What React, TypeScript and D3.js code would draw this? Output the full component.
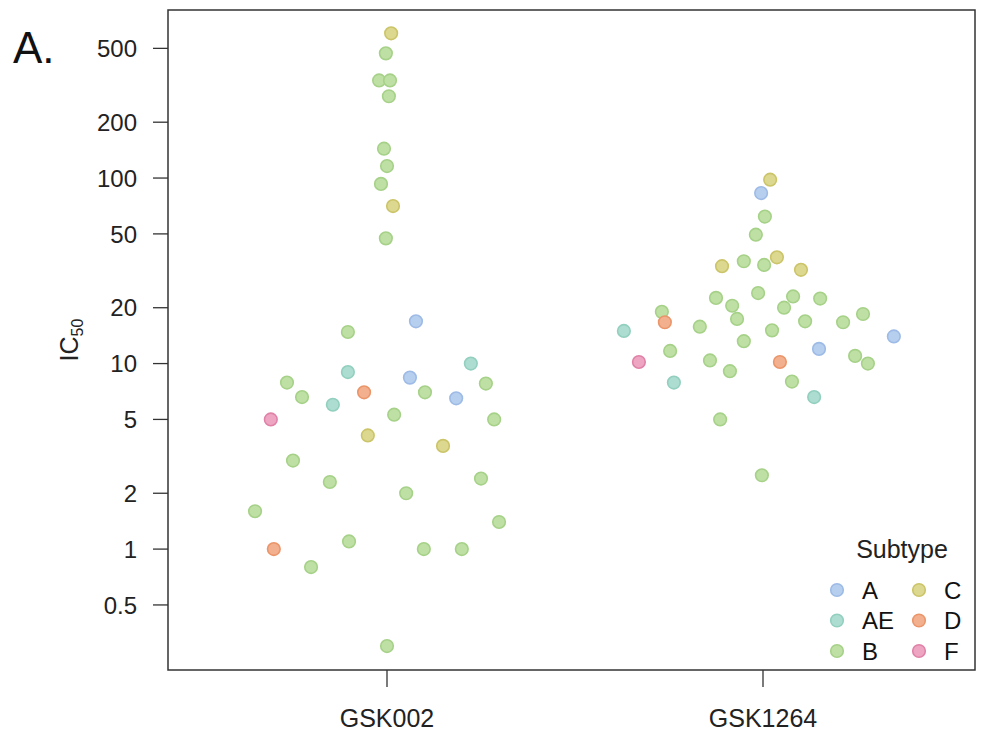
import React from 'react';
import * as d3 from 'd3';

const groups = ['GSK002', 'GSK1264'];
const subtypes = ['A', 'AE', 'B', 'C', 'D', 'F'];
const yTicks = [0.5, 1, 2, 5, 10, 20, 50, 100, 200, 500];

// GSK002
const gsk002Subtype = ['C', 'B', 'B', 'B', 'B', 'B', 'B', 'B', 'C', 'B', 'A', 'B', 'AE', 'AE', 'A', 'B', 'B', 'D', 'B', 'B', 'A', 'AE', 'B', 'F', 'B', 'C', 'C', 'B', 'B', 'B', 'B', 'B', 'B', 'D', 'B', 'B', 'B', 'B', 'B'];
const gsk002Value = [603, 470, 336, 336, 276, 144, 116, 93, 70.6, 47.3, 16.9, 14.8, 10, 9.0, 8.4, 7.9, 7.8, 7.0, 7.0, 6.6, 6.5, 6.0, 5.3, 5.0, 5.0, 4.1, 3.6, 3.0, 2.3, 2.4, 2.0, 1.6, 1.4, 1.0, 1.1, 1.0, 1.0, 0.8, 0.3];
// horizontal jitter, as a fraction of the distance between groups
const gsk002Jitter = [0.011, -0.003, -0.021, 0.008, 0.005, -0.008, 0, -0.016, 0.016, -0.003, 0.077, -0.104, 0.223, -0.104, 0.061, -0.266, 0.263, -0.061, 0.101, -0.226, 0.184, -0.144, 0.019, -0.309, 0.285, -0.051, 0.149, -0.25, -0.152, 0.25, 0.051, -0.351, 0.298, -0.301, -0.101, 0.098, 0.199, -0.202, 0];

// GSK1264
const gsk1264Subtype = ['C', 'A', 'B', 'B', 'C', 'B', 'B', 'C', 'C', 'B', 'B', 'B', 'B', 'B', 'B', 'B', 'B', 'D', 'AE', 'B', 'B', 'B', 'B', 'B', 'B', 'A', 'A', 'B', 'F', 'B', 'D', 'B', 'B', 'B', 'AE', 'B', 'AE', 'B', 'B'];
const gsk1264Value = [98, 83, 62, 49.5, 33.5, 35.6, 34, 37.4, 32, 22.6, 24, 23, 22.4, 20.5, 20, 19, 18.5, 16.7, 15, 15.8, 17.4, 15.1, 16.9, 16.7, 13.2, 14, 12, 11.7, 10.2, 10.4, 10.2, 11, 10, 9.1, 7.9, 8.0, 6.6, 5.0, 2.5];
const gsk1264Jitter = [0.019, -0.005, 0.005, -0.019, -0.109, -0.051, 0.003, 0.037, 0.101, -0.125, -0.013, 0.08, 0.152, -0.082, 0.056, -0.269, 0.266, -0.261, -0.37, -0.168, -0.069, 0.024, 0.112, 0.213, -0.051, 0.348, 0.149, -0.247, -0.33, -0.141, 0.045, 0.245, 0.279, -0.088, -0.237, 0.077, 0.136, -0.114, -0.003];

const fills = ['#b7cfee', '#acddd0', '#bfe0a4', '#dcd890', '#f3b08e', '#eea5c2'];
const strokes = ['#9dbbe6', '#92cfbf', '#a6d188', '#cbc468', '#eb956a', '#e082a8'];

const width = 987;
const height = 734;
const margin = { top: 10, right: 12, bottom: 64, left: 168 };
const font = '"Liberation Sans", Arial, Helvetica, sans-serif';

const App = () => {
    const plotRight = width - margin.right;
    const plotBottom = height - margin.bottom;

    // groups sit 219px and 595px into the plot frame
    const xScale = d3.scalePoint<string>()
        .domain(groups)
        .range([margin.left + 219, margin.left + 595]);
    const step = xScale.step();
    const jitterScale = d3.scaleLinear().domain([-1, 1]).range([-step, step]);

    const yScale = d3.scaleLog()
        .domain([0.223, 805])
        .range([plotBottom, margin.top]);

    const color = d3.scaleOrdinal<string, string>().domain(subtypes).range(fills);
    const strokeColor = d3.scaleOrdinal<string, string>().domain(subtypes).range(strokes);

    const points = [
        ...gsk002Value.map((v, i) => ({ group: groups[0], value: v, subtype: gsk002Subtype[i], jitter: gsk002Jitter[i] })),
        ...gsk1264Value.map((v, i) => ({ group: groups[1], value: v, subtype: gsk1264Subtype[i], jitter: gsk1264Jitter[i] }))
    ];

    // legend: two columns of three
    const legendCols = [subtypes.slice(0, 3), subtypes.slice(3)];

    return (
        <svg width={width} height={height} style={{ position: 'absolute', left: 0, top: 0, background: '#fff' }} fontFamily={font}>
            <text x={13} y={63} fontSize={44} fill="#111">A.</text>

            {/* points */}
            {points.map((d, i) => (
                <circle
                    key={i}
                    cx={(xScale(d.group) as number) + jitterScale(d.jitter)}
                    cy={yScale(d.value)}
                    r={6.3}
                    fill={color(d.subtype)}
                    stroke={strokeColor(d.subtype)}
                    strokeWidth={1.6}
                />
            ))}

            {/* frame */}
            <rect x={margin.left} y={margin.top} width={plotRight - margin.left} height={plotBottom - margin.top}
                fill="none" stroke="#333" strokeWidth={1.5} />

            {/* y axis */}
            {yTicks.map(t => (
                <g key={t} transform={`translate(0, ${yScale(t)})`}>
                    <line x1={margin.left - 15} x2={margin.left} stroke="#333" strokeWidth={1.3} />
                    <text x={margin.left - 31} dy="0.36em" textAnchor="end" fontSize={24} fill="#222">{t}</text>
                </g>
            ))}
            <text transform={`translate(78, 340) rotate(-90)`} textAnchor="middle" fontSize={25} fill="#222">
                IC<tspan fontSize={16} dy={5}>50</tspan>
            </text>

            {/* x axis */}
            {groups.map(g => (
                <g key={g} transform={`translate(${xScale(g)}, ${plotBottom})`}>
                    <line y1={0} y2={17} stroke="#333" strokeWidth={1.3} />
                    <text y={57} textAnchor="middle" fontSize={25} fill="#222">{g}</text>
                </g>
            ))}

            {/* legend */}
            <text x={902} y={558} textAnchor="middle" fontSize={25} fill="#222">Subtype</text>
            {legendCols.map((col, ci) => col.map((s, ri) => (
                <g key={s} transform={`translate(${837 + ci * 82}, ${590 + ri * 30.5})`}>
                    <circle r={6.3} fill={color(s)} stroke={strokeColor(s)} strokeWidth={1.6} />
                    <text x={25} dy="0.36em" fontSize={24} fill="#111">{s}</text>
                </g>
            )))}
        </svg>
    );
};

export default App;
